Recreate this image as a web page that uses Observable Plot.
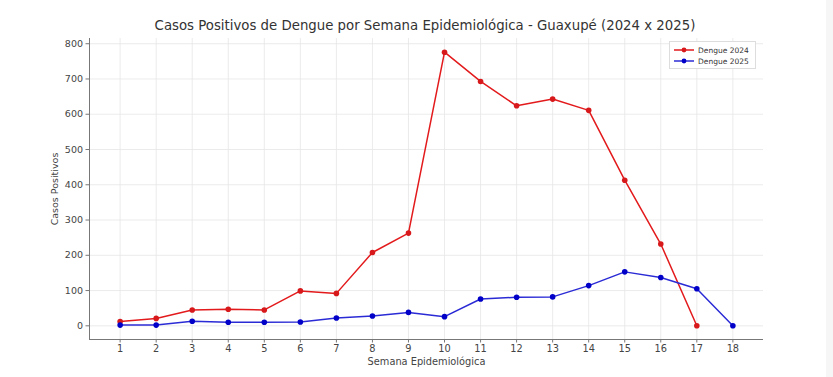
<!DOCTYPE html>
<html>
<head>
<meta charset="utf-8">
<script src="https://cdn.jsdelivr.net/npm/d3@7"></script>
<script src="https://cdn.jsdelivr.net/npm/@observablehq/plot@0.6"></script>
<style>
  body { margin: 0; background: #fff; }
  #wrap { position: relative; width: 833px; height: 377px; font-family: "DejaVu Sans", sans-serif; }
  #title { position: absolute; top: 18px; left: 0; width: 850px; text-align: center; font-size: 13.3px; color: #333; }
  #legend { position: absolute; left: 669px; top: 41px; width: 87px; height: 28px; border: 1px solid #ddd; background: #fff; font-size: 7.5px; color: #333; box-sizing: border-box; }
  .li { position: absolute; left: 4px; height: 10px; display: flex; align-items: center; }
  .li span { margin-left: 4px; }
  #edge { position: absolute; left: 826px; top: 0; width: 7px; height: 377px; background: #f6f6f6; }
</style>
</head>
<body>
<div id="wrap">
  <div id="chart"></div>
  <div id="title">Casos Positivos de Dengue por Semana Epidemiológica - Guaxupé (2024 x 2025)</div>
  <div id="legend">
    <div class="li" style="top:3px"><svg width="20" height="8"><line x1="0" y1="4" x2="20" y2="4" stroke="#e31a1c" stroke-width="1.5"/><circle cx="10" cy="4" r="2.4" fill="#d7191c"/></svg><span>Dengue 2024</span></div>
    <div class="li" style="top:14px"><svg width="20" height="8"><line x1="0" y1="4" x2="20" y2="4" stroke="#2b2bd6" stroke-width="1.5"/><circle cx="10" cy="4" r="2.4" fill="#0000c8"/></svg><span>Dengue 2025</span></div>
  </div>
  <div id="edge"></div>
</div>
<script>
const weeks2024 = [1,2,3,4,5,6,7,8,9,10,11,12,13,14,15,16,17];
const cases2024 = [12,21,45,47,45,99,92,208,263,776,693,624,643,611,413,232,0];
const weeks2025 = [1,2,3,4,5,6,7,8,9,10,11,12,13,14,15,16,17,18];
const cases2025 = [2,2,13,10,10,11,22,28,38,26,76,81,82,114,153,137,105,0];
const xTicks = [1,2,3,4,5,6,7,8,9,10,11,12,13,14,15,16,17,18];
const yTicks = [0,100,200,300,400,500,600,700,800];

const d24 = weeks2024.map((w, i) => ({week: w, cases: cases2024[i]}));
const d25 = weeks2025.map((w, i) => ({week: w, cases: cases2025[i]}));

const xDom = [0.15, 18.85];
const yDom = [-38.8, 814.8];

const red = "#e31a1c", blue = "#2b2bd6";

const chart = Plot.plot({
  width: 833,
  height: 377,
  marginLeft: 89,
  marginRight: 70,
  marginTop: 38,
  marginBottom: 38,
  style: {fontFamily: "DejaVu Sans, sans-serif", fontSize: "9.8px", color: "#444", background: "transparent"},
  x: {domain: xDom, label: null},
  y: {domain: yDom, label: null},
  marks: [
    Plot.gridX(xTicks, {stroke: "#e6e6e6", strokeOpacity: 1, strokeWidth: 0.8}),
    Plot.gridY(yTicks, {stroke: "#e6e6e6", strokeOpacity: 1, strokeWidth: 0.8}),
    Plot.ruleX([xDom[0]], {stroke: "#777", strokeWidth: 1}),
    Plot.ruleY([yDom[0]], {stroke: "#777", strokeWidth: 1}),
    Plot.axisX(xTicks, {tickSize: 3.5, tickPadding: 2, stroke: "#777", fill: "#444", tickFormat: d => String(d),
      label: "Semana Epidemiológica", labelAnchor: "center", labelArrow: "none", labelOffset: 25, fontSize: 9.8}),
    Plot.axisY(yTicks, {tickSize: 3.5, tickPadding: 3, stroke: "#777", fill: "#444", tickFormat: d => String(d),
      label: "Casos Positivos", labelAnchor: "center", labelArrow: "none", labelOffset: 38, fontSize: 9.5}),
    Plot.line(d24, {x: "week", y: "cases", stroke: red, strokeWidth: 1.5}),
    Plot.dot(d24, {x: "week", y: "cases", fill: "#d7191c", r: 2.8}),
    Plot.line(d25, {x: "week", y: "cases", stroke: blue, strokeWidth: 1.5}),
    Plot.dot(d25, {x: "week", y: "cases", fill: "#0000c8", r: 2.8})
  ]
});
document.getElementById("chart").appendChild(chart);
</script>
</body>
</html>
